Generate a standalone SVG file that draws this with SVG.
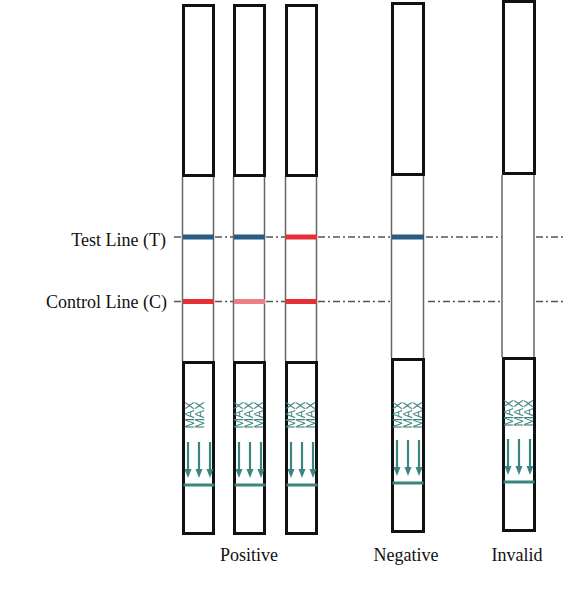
<svg xmlns="http://www.w3.org/2000/svg" width="569" height="590" viewBox="0 0 569 590">
<style>
.box{fill:none;stroke:#111;stroke-width:3}
.side{stroke:#666;stroke-width:1.5}
.dd{stroke:#555;stroke-width:1.5;stroke-dasharray:7 3 2 3;fill:none}
.blue{fill:#2b5a82}
.red{fill:#e53038}
.pink{fill:#ee7f86}
.teal{fill:#3b8580}
.ar{stroke:#3b8580;stroke-width:2.2}
.max{font-family:"Liberation Sans",Arial,sans-serif;font-size:12.5px;fill:#3b8580;text-anchor:middle;dominant-baseline:central}
.lbl{font-family:"Liberation Serif","Times New Roman",serif;font-size:18px;fill:#111}
</style>
<defs>
<g id="arrows">
<line class="ar" x1="6" y1="-43" x2="6" y2="-14"/>
<line class="ar" x1="17" y1="-43" x2="17" y2="-14"/>
<line class="ar" x1="28" y1="-43" x2="28" y2="-14"/>
<polygon class="teal" points="2.5,-16 9.5,-16 6,-7"/>
<polygon class="teal" points="13.5,-16 20.5,-16 17,-7"/>
<polygon class="teal" points="24.5,-16 31.5,-16 28,-7"/>
<rect class="teal" x="1.5" y="-1.5" width="31" height="3"/>
</g>
</defs>
<g id="connectors">
<path class="dd" d="M174,237H182 M215,237H233 M266,237H285 M318,237H391 M426,237H502 M536,237H565"/>
<path class="dd" d="M174,301.5H182 M215,301.5H233 M266,301.5H285 M318,301.5H391 M428,301.5H502 M536,301.5H565"/>
</g>
<g id="strip1">
<line class="side" x1="182.5" y1="177" x2="182.5" y2="361"/>
<line class="side" x1="213.5" y1="177" x2="213.5" y2="361"/>
<rect class="box" x="183.5" y="5.5" width="30" height="170"/>
<rect class="box" x="183.5" y="362.5" width="30" height="171"/>
<rect class="blue" x="183" y="234.5" width="31" height="5"/>
<rect class="red" x="183" y="299" width="31" height="5"/>
<text class="max" transform="translate(190,415) rotate(-90)">MAX</text>
<text class="max" transform="translate(200,415) rotate(-90)">MAX</text>
<use href="#arrows" transform="translate(182,485)"/>
</g>
<g id="strip2">
<line class="side" x1="233.5" y1="177" x2="233.5" y2="361"/>
<line class="side" x1="264.5" y1="177" x2="264.5" y2="361"/>
<rect class="box" x="234.5" y="5.5" width="30" height="170"/>
<rect class="box" x="234.5" y="362.5" width="30" height="171"/>
<rect class="blue" x="234" y="234.5" width="31" height="5"/>
<rect class="pink" x="234" y="299" width="31" height="5"/>
<text class="max" transform="translate(239,415) rotate(-90)">MAX</text>
<text class="max" transform="translate(249,415) rotate(-90)">MAX</text>
<text class="max" transform="translate(259,415) rotate(-90)">MAX</text>
<use href="#arrows" transform="translate(233,485)"/>
</g>
<g id="strip3">
<line class="side" x1="285.5" y1="177" x2="285.5" y2="361"/>
<line class="side" x1="316.5" y1="177" x2="316.5" y2="361"/>
<rect class="box" x="286.5" y="5.5" width="30" height="170"/>
<rect class="box" x="286.5" y="362.5" width="30" height="171"/>
<rect class="red" x="286" y="234.5" width="31" height="5"/>
<rect class="red" x="286" y="299" width="31" height="5"/>
<text class="max" transform="translate(291,415) rotate(-90)">MAX</text>
<text class="max" transform="translate(301,415) rotate(-90)">MAX</text>
<text class="max" transform="translate(311,415) rotate(-90)">MAX</text>
<use href="#arrows" transform="translate(285,485)"/>
</g>
<g id="strip4">
<line class="side" x1="391.5" y1="176" x2="391.5" y2="358"/>
<line class="side" x1="423.5" y1="176" x2="423.5" y2="358"/>
<rect class="box" x="392.5" y="3.5" width="31" height="171"/>
<rect class="box" x="392.5" y="359.5" width="31" height="172"/>
<rect class="blue" x="392" y="234.5" width="32" height="5"/>
<text class="max" transform="translate(398,415) rotate(-90)">MAX</text>
<text class="max" transform="translate(408,415) rotate(-90)">MAX</text>
<text class="max" transform="translate(418,415) rotate(-90)">MAX</text>
<use href="#arrows" transform="translate(391,483)"/>
</g>
<g id="strip5">
<line class="side" x1="502" y1="175" x2="502" y2="357"/>
<line class="side" x1="534" y1="175" x2="534" y2="357"/>
<rect class="box" x="503.5" y="1.5" width="31" height="172"/>
<rect class="box" x="503.5" y="358.5" width="31" height="172"/>
<text class="max" transform="translate(509,413) rotate(-90)">MAX</text>
<text class="max" transform="translate(519,413) rotate(-90)">MAX</text>
<text class="max" transform="translate(529,413) rotate(-90)">MAX</text>
<use href="#arrows" transform="translate(502,482)"/>
</g>
<g id="labels">
<text class="lbl" x="166" y="246" text-anchor="end">Test Line (T)</text>
<text class="lbl" x="167" y="308" text-anchor="end">Control Line (C)</text>
<text class="lbl" x="249" y="561" text-anchor="middle">Positive</text>
<text class="lbl" x="406" y="561" text-anchor="middle">Negative</text>
<text class="lbl" x="517" y="561" text-anchor="middle">Invalid</text>
</g>
</svg>
